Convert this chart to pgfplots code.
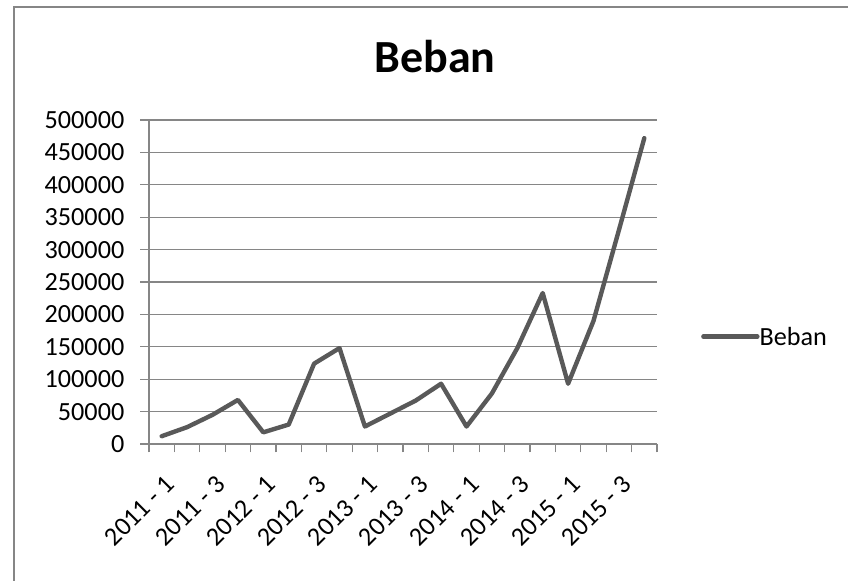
\documentclass[border=0pt]{standalone}
\usepackage{fontspec}
\setmainfont{Carlito}
\usepackage{pgfplots}
\pgfplotsset{compat=1.18}
\definecolor{lineGray}{RGB}{89,89,89}
\definecolor{gridGray}{RGB}{134,134,134}
\begin{document}
\begin{tikzpicture}
\path[use as bounding box] (0,0) rectangle (848bp,581bp);
% chart area border (left and top edges)
\draw[gridGray, line width=2bp] (13.8bp,-2bp) -- (13.8bp,573.5bp) -- (850bp,573.5bp);
\begin{axis}[
  at={(149bp,137bp)}, anchor=south west,
  scale only axis, width=508bp, height=324bp,
  xmin=-0.5, xmax=19.5, ymin=0, ymax=500000,
  axis lines*=left,
  axis line style={gridGray, line width=1.3bp},
  tick style={gridGray, line width=1.3bp},
  tick align=outside, major tick length=8.5bp,
  ymajorgrids, grid style={gridGray, line width=1.3bp},
  scaled y ticks=false,
  ytick={0,50000,100000,150000,200000,250000,300000,350000,400000,450000,500000},
  yticklabels={0,50000,100000,150000,200000,250000,300000,350000,400000,450000,500000},
  yticklabel style={anchor=east, inner sep=0pt, xshift=-16bp},
  xtick={-0.5,0.5,...,19.5},
  xticklabel=\empty,
  % shift first, then rotate, so the shift stays horizontal/vertical
  xticklabel style={yshift=-30bp, xshift=2bp, rotate=45, anchor=north east, inner sep=0pt},
  extra x ticks={0,2,4,6,8,10,12,14,16,18},
  extra x tick labels={2011 - 1,2011 - 3,2012 - 1,2012 - 3,2013 - 1,2013 - 3,2014 - 1,2014 - 3,2015 - 1,2015 - 3},
  extra x tick style={major tick length=0pt},
  tick label style={font=\fontsize{26.2bp}{31bp}\selectfont, black},
  title={Beban},
  title style={at={(0.563,1.1296)}, anchor=base, inner sep=0pt,
    font=\fontsize{46bp}{54bp}\selectfont\bfseries},
  legend style={draw=none, fill=none, at={(1.0866,0.3312)}, anchor=west,
    inner sep=0pt, nodes={inner sep=0pt, font=\fontsize{26.2bp}{31bp}\selectfont},
    /tikz/every even column/.style={column sep=4bp}},
  legend image code/.code={\draw[#1] (0bp,0bp) -- (54bp,0bp);},
  clip=false,
]
\addplot[lineGray, line width=4.4bp, line join=round, line cap=round]
  coordinates {
  (0,12000) (1,26000) (2,45000) (3,68000) (4,18000)
  (5,30000) (6,124000) (7,148000) (8,27000) (9,47000)
  (10,67000) (11,93000) (12,27000) (13,78000) (14,148000)
  (15,233000) (16,93000) (17,190000) (18,330000) (19,472000)
  };
\addlegendentry{Beban}
\end{axis}
\end{tikzpicture}
\end{document}
